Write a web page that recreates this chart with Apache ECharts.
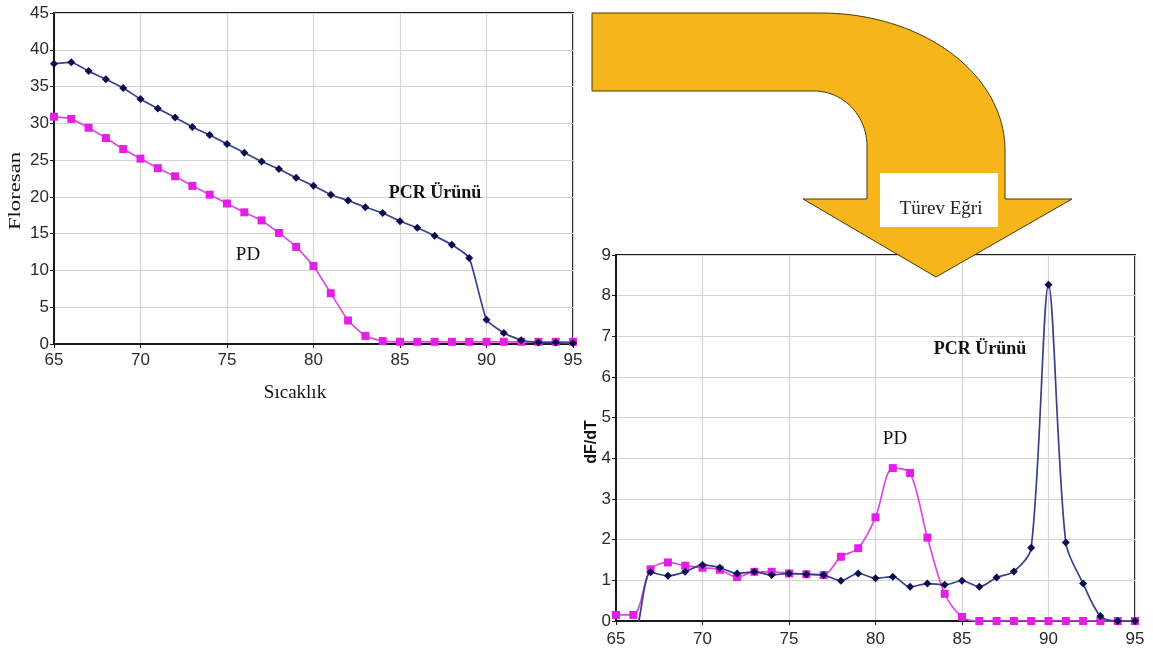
<!DOCTYPE html>
<html>
<head>
<meta charset="utf-8">
<script src="https://cdn.jsdelivr.net/npm/echarts@6/dist/echarts.min.js"></script>
<style>
  html, body { margin: 0; padding: 0; background: #fff; }
  #chart { width: 1153px; height: 657px; }
</style>
</head>
<body>
<div id="chart"></div>
<script>
// Temperatures (°C) shared by both panels
const temps = [65, 66, 67, 68, 69, 70, 71, 72, 73, 74, 75, 76, 77, 78, 79, 80,
               81, 82, 83, 84, 85, 86, 87, 88, 89, 90, 91, 92, 93, 94, 95];

// Melting curves: fluorescence vs temperature
const meltPCR = [38.1, 38.3, 37.1, 36.0, 34.8, 33.3, 32.0, 30.8, 29.5, 28.4, 27.2, 26.0, 24.8, 23.8, 22.6, 21.5,
                 20.3, 19.5, 18.6, 17.8, 16.7, 15.8, 14.7, 13.5, 11.7, 3.3, 1.5, 0.5, 0.2, 0.2, 0.1];
const meltPD  = [30.9, 30.6, 29.4, 28.0, 26.5, 25.2, 23.9, 22.8, 21.5, 20.3, 19.1, 17.9, 16.8, 15.1, 13.2, 10.6,
                 6.9, 3.2, 1.1, 0.4, 0.3, 0.3, 0.3, 0.3, 0.3, 0.3, 0.3, 0.3, 0.3, 0.3, 0.3];

// Derivative curves: dF/dT vs temperature
const derivPCR = [-0.3, -0.3, 1.2, 1.11, 1.21, 1.38, 1.31, 1.17, 1.21, 1.13, 1.17, 1.15, 1.13, 0.99, 1.17, 1.05,
                  1.09, 0.84, 0.92, 0.89, 0.99, 0.84, 1.07, 1.22, 1.8, 8.27, 1.93, 0.92, 0.12, 0, 0];
const derivPD  = [0.15, 0.15, 1.27, 1.44, 1.36, 1.31, 1.26, 1.08, 1.21, 1.21, 1.17, 1.15, 1.13, 1.58, 1.79, 2.55,
                  3.76, 3.64, 2.05, 0.67, 0.1, 0, 0, 0, 0, 0, 0, 0, 0, 0, 0];

// Axis ticks
const xTicks = { min: 65, max: 95, step: 5 };
const yTicksMelt = { min: 0, max: 45, step: 5 };
const yTicksDeriv = { min: 0, max: 9, step: 1 };

const pairs = (ys) => temps.map((t, i) => [t, ys[i]]);

const NAVY_LINE = '#3a3f8c';
const NAVY_MARK = '#0b0d4d';
const MAG_LINE = '#e048e6';
const MAG_MARK = '#e21fe4';
const SERIF = '"Liberation Serif", "DejaVu Serif", serif';
const SANS = '"Liberation Sans", Arial, sans-serif';
const TICK_COLOR = '#2a2a2a';

function xAxisCfg(gridIndex, fontSize, labelMargin) {
  return {
    type: 'value', gridIndex,
    min: xTicks.min, max: xTicks.max, interval: xTicks.step,
    axisLine: { show: true, onZero: false, lineStyle: { color: '#1a1a1a', width: 2 } },
    axisTick: { show: true, length: 4, lineStyle: { color: '#1a1a1a' } },
    axisLabel: { color: TICK_COLOR, fontFamily: SANS, fontSize, margin: labelMargin },
    splitLine: { show: true, lineStyle: { color: '#d4d4d4', width: 1.2 } }
  };
}
function yAxisCfg(gridIndex, t, fontSize) {
  return {
    type: 'value', gridIndex,
    min: t.min, max: t.max, interval: t.step,
    axisLine: { show: true, lineStyle: { color: '#1a1a1a', width: 2 } },
    axisTick: { show: true, length: 4, lineStyle: { color: '#1a1a1a' } },
    axisLabel: { color: TICK_COLOR, fontFamily: SANS, fontSize, margin: 5 },
    splitLine: { show: true, lineStyle: { color: '#d4d4d4', width: 1.2 } }
  };
}
function lineSeries(name, xi, yi, data, lineColor, markColor, symbol, size, smooth) {
  return {
    name, type: 'line', xAxisIndex: xi, yAxisIndex: yi, data: pairs(data),
    symbol, symbolSize: size, smooth, clip: true,
    lineStyle: { color: lineColor, width: 1.7 },
    itemStyle: { color: markColor },
    emphasis: { disabled: true }, z: symbol === 'diamond' ? 3 : 2
  };
}

// Bent arrow outline: straight band, two elliptical quarter turns, arrow head
function quarter(cx, cy, rx, ry, a0, a1, n) {
  const pts = [];
  for (let i = 0; i <= n; i++) {
    const a = a0 + (a1 - a0) * i / n;
    pts.push([cx + rx * Math.cos(a), cy + ry * Math.sin(a)]);
  }
  return pts;
}
const arrowPoints = [].concat(
  [[592, 13]],
  quarter(821, 150, 184, 137, -Math.PI / 2, 0, 40),      // outer bend
  [[1005, 199], [1072, 199], [936, 277], [803, 199], [867, 199]],
  quarter(814, 146, 53, 55, 0, -Math.PI / 2, 24),         // inner bend
  [[592, 91]]
);

function label(x, y, text, font, extra) {
  return Object.assign({
    type: 'text', x, y, z: 10,
    style: { text, font, fill: '#111', textAlign: 'center', textVerticalAlign: 'middle' }
  }, extra || {});
}

const chart = echarts.init(document.getElementById('chart'), null, { renderer: 'canvas' });
chart.setOption({
  animation: false,
  backgroundColor: '#fff',
  grid: [
    { left: 54, top: 13, width: 519, height: 331, show: true, borderColor: '#1a1a1a', borderWidth: 2, backgroundColor: '#fff' },
    { left: 616, top: 255, width: 519, height: 366, show: true, borderColor: '#1a1a1a', borderWidth: 2, backgroundColor: '#fff' }
  ],
  xAxis: [xAxisCfg(0, 17, 8), xAxisCfg(1, 17, 10)],
  yAxis: [yAxisCfg(0, yTicksMelt, 17), yAxisCfg(1, yTicksDeriv, 17)],
  series: [
    lineSeries('PD', 0, 0, meltPD, MAG_LINE, MAG_MARK, 'rect', 8, 0.15),
    lineSeries('PCR Ürünü', 0, 0, meltPCR, NAVY_LINE, NAVY_MARK, 'diamond', 8, 0.15),
    lineSeries('PD', 1, 1, derivPD, MAG_LINE, MAG_MARK, 'rect', 8, 0.3),
    lineSeries('PCR Ürünü', 1, 1, derivPCR, NAVY_LINE, NAVY_MARK, 'diamond', 8, 0.3)
  ],
  graphic: [
    // axis names
    label(16, 191, 'Floresan', '16px ' + SERIF, { rotation: Math.PI / 2, scaleX: 1.42 }),
    label(295, 393, 'Sıcaklık', '19px ' + SERIF),
    label(592, 442, 'dF/dT', 'bold 16px ' + SANS, { rotation: Math.PI / 2 }),
    // curve annotations
    label(435, 193, 'PCR Ürünü', 'bold 18px ' + SERIF),
    label(248, 255, 'PD', '19px ' + SERIF),
    label(980, 349, 'PCR Ürünü', 'bold 18px ' + SERIF),
    label(895, 439, 'PD', '19px ' + SERIF),
    // arrow with its caption box
    { type: 'polygon', shape: { points: arrowPoints }, z: 100,
      style: { fill: '#f6b51b', stroke: '#4a3a08', lineWidth: 1 } },
    { type: 'rect', shape: { x: 880, y: 173, width: 118, height: 54 }, z: 101,
      style: { fill: '#fff' } },
    { type: 'text', x: 941, y: 209, z: 102,
      style: { text: 'Türev Eğri', font: '19px ' + SERIF, fill: '#222', textAlign: 'center', textVerticalAlign: 'middle' } }
  ]
});
</script>
</body>
</html>
